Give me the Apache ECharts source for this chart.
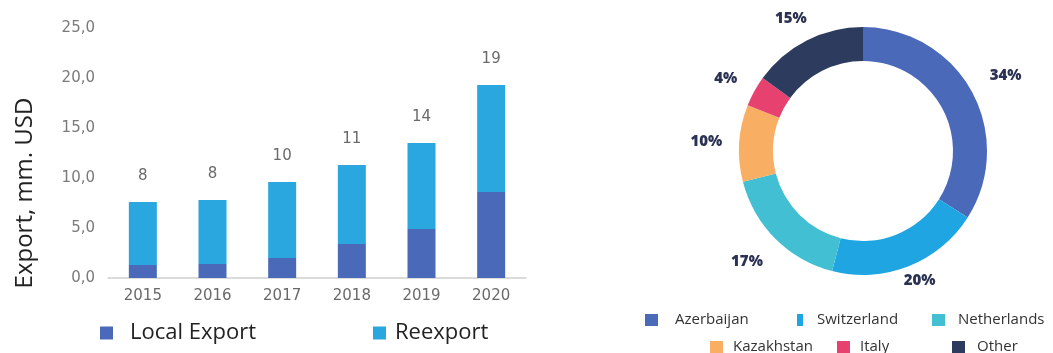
<!DOCTYPE html>
<html>
<head>
<meta charset="utf-8">
<script src="https://cdn.jsdelivr.net/npm/echarts@6/dist/echarts.min.js"></script>
<style>
  html, body { margin: 0; padding: 0; background: #fff; }
  #chart { width: 1053px; height: 353px; }
</style>
</head>
<body>
<div id="chart"></div>
<script>
// Export volumes by year, mm. USD
const years = ['2015', '2016', '2017', '2018', '2019', '2020'];
const localExport = [1.3, 1.4, 2.0, 3.4, 4.9, 8.6];
const reexport = [6.3, 6.4, 7.6, 7.9, 8.6, 10.7];
const yTicks = ['0,0', '5,0', '10,0', '15,0', '20,0', '25,0'];

// Export destinations, share in %
const countries = ['Azerbaijan', 'Switzerland', 'Netherlands', 'Kazakhstan', 'Italy', 'Other'];
const shares = [34, 20, 17, 10, 4, 15];

const barColors = ['#4b69b9', '#2aa7df'];
const pieColors = ['#4b69b9', '#1fa6e2', '#42bfd3', '#f8ae63', '#e7416f', '#2d3b5e'];

const totals = years.map((_, i) => localExport[i] + reexport[i]);

const chart = echarts.init(document.getElementById('chart'), null, { renderer: 'canvas' });

// donut legend laid out as a two-row table, one legend component per cell
const pieLegendCells = [
  { left: 645, top: 312, w: 13, gap: 12 },
  { left: 797, top: 312, w: 6, gap: 9 },
  { left: 932, top: 312, w: 13, gap: 8 },
  { left: 710, top: 339, w: 13, gap: 5 },
  { left: 837, top: 339, w: 13, gap: 5 },
  { left: 952, top: 339, w: 13, gap: 7 }
];
const pieLegends = countries.map((c, i) => ({
  data: [c],
  left: pieLegendCells[i].left,
  top: pieLegendCells[i].top,
  padding: 0,
  itemWidth: pieLegendCells[i].w, itemHeight: 12, itemGap: 0,
  icon: 'rect',
  textStyle: {
    fontFamily: 'Open Sans', fontSize: 15, lineHeight: 16, color: '#333',
    padding: [0, 0, 0, pieLegendCells[i].gap]
  }
}));

// how far each donut label sits past the outer ring
const pieLabelReach = { Azerbaijan: 33, Switzerland: 16, Netherlands: 33, Kazakhstan: 28, Italy: 27, Other: 24 };

const barLegendText = { fontFamily: 'Open Sans', fontSize: 22, lineHeight: 22, color: '#222' };

chart.setOption({
  animation: false,
  color: barColors,
  legend: [
    {
      data: ['Local Export'], left: 100, top: 322, padding: 0, icon: 'rect', itemWidth: 13, itemHeight: 13,
      textStyle: Object.assign({ padding: [0, 0, 0, 12] }, barLegendText)
    },
    {
      data: ['Reexport'], left: 373, top: 322, padding: 0, icon: 'rect', itemWidth: 13, itemHeight: 13,
      textStyle: Object.assign({ padding: [0, 0, 0, 4] }, barLegendText)
    }
  ].concat(pieLegends),
  grid: { left: 108, right: 527, top: 28, bottom: 75 },
  graphic: [{
    type: 'text',
    x: 25, y: 193, rotation: Math.PI / 2,
    style: {
      text: 'Export, mm. USD', fontFamily: 'Open Sans', fontSize: 24, fill: '#222',
      textAlign: 'center', textVerticalAlign: 'middle'
    }
  }],
  xAxis: {
    type: 'category', data: years,
    axisLine: { lineStyle: { color: '#cfcfcf', width: 1.5 } },
    axisTick: { show: false },
    axisLabel: { color: '#6a6a6a', fontFamily: 'DejaVu Sans', fontSize: 15, margin: 11 }
  },
  yAxis: {
    type: 'value', min: 0, max: 25, interval: 5,
    axisLine: { show: false }, axisTick: { show: false }, splitLine: { show: false },
    axisLabel: {
      color: '#7a7a7a', fontFamily: 'DejaVu Sans', fontSize: 15, margin: 13,
      formatter: v => yTicks[Math.round(v / 5)]
    }
  },
  series: [
    {
      name: 'Local Export', type: 'bar', stack: 'exp', barWidth: 28,
      itemStyle: { color: barColors[0] }, data: localExport
    },
    {
      name: 'Reexport', type: 'bar', stack: 'exp', barWidth: 28,
      itemStyle: { color: barColors[1] }, data: reexport,
      label: {
        show: true, position: 'top', distance: 18,
        color: '#6a6a6a', fontFamily: 'DejaVu Sans', fontSize: 15,
        formatter: p => String(Math.round(totals[p.dataIndex]))
      }
    },
    {
      name: 'Share', type: 'pie', center: [863, 151], radius: [90, 124],
      startAngle: 90, clockwise: true, avoidLabelOverlap: false,
      color: pieColors,
      label: {
        show: true, position: 'outside', formatter: '{c}%',
        fontFamily: 'Open Sans', fontWeight: 800, fontSize: 15, color: '#2b3254'
      },
      labelLine: { show: false, length: 26, length2: 0 },
      labelLayout: { align: 'center', verticalAlign: 'middle' },
      data: countries.map((c, i) => ({
        name: c, value: shares[i],
        itemStyle: { color: pieColors[i] },
        labelLine: { length: pieLabelReach[c], length2: 0 }
      }))
    }
  ]
});
</script>
</body>
</html>
